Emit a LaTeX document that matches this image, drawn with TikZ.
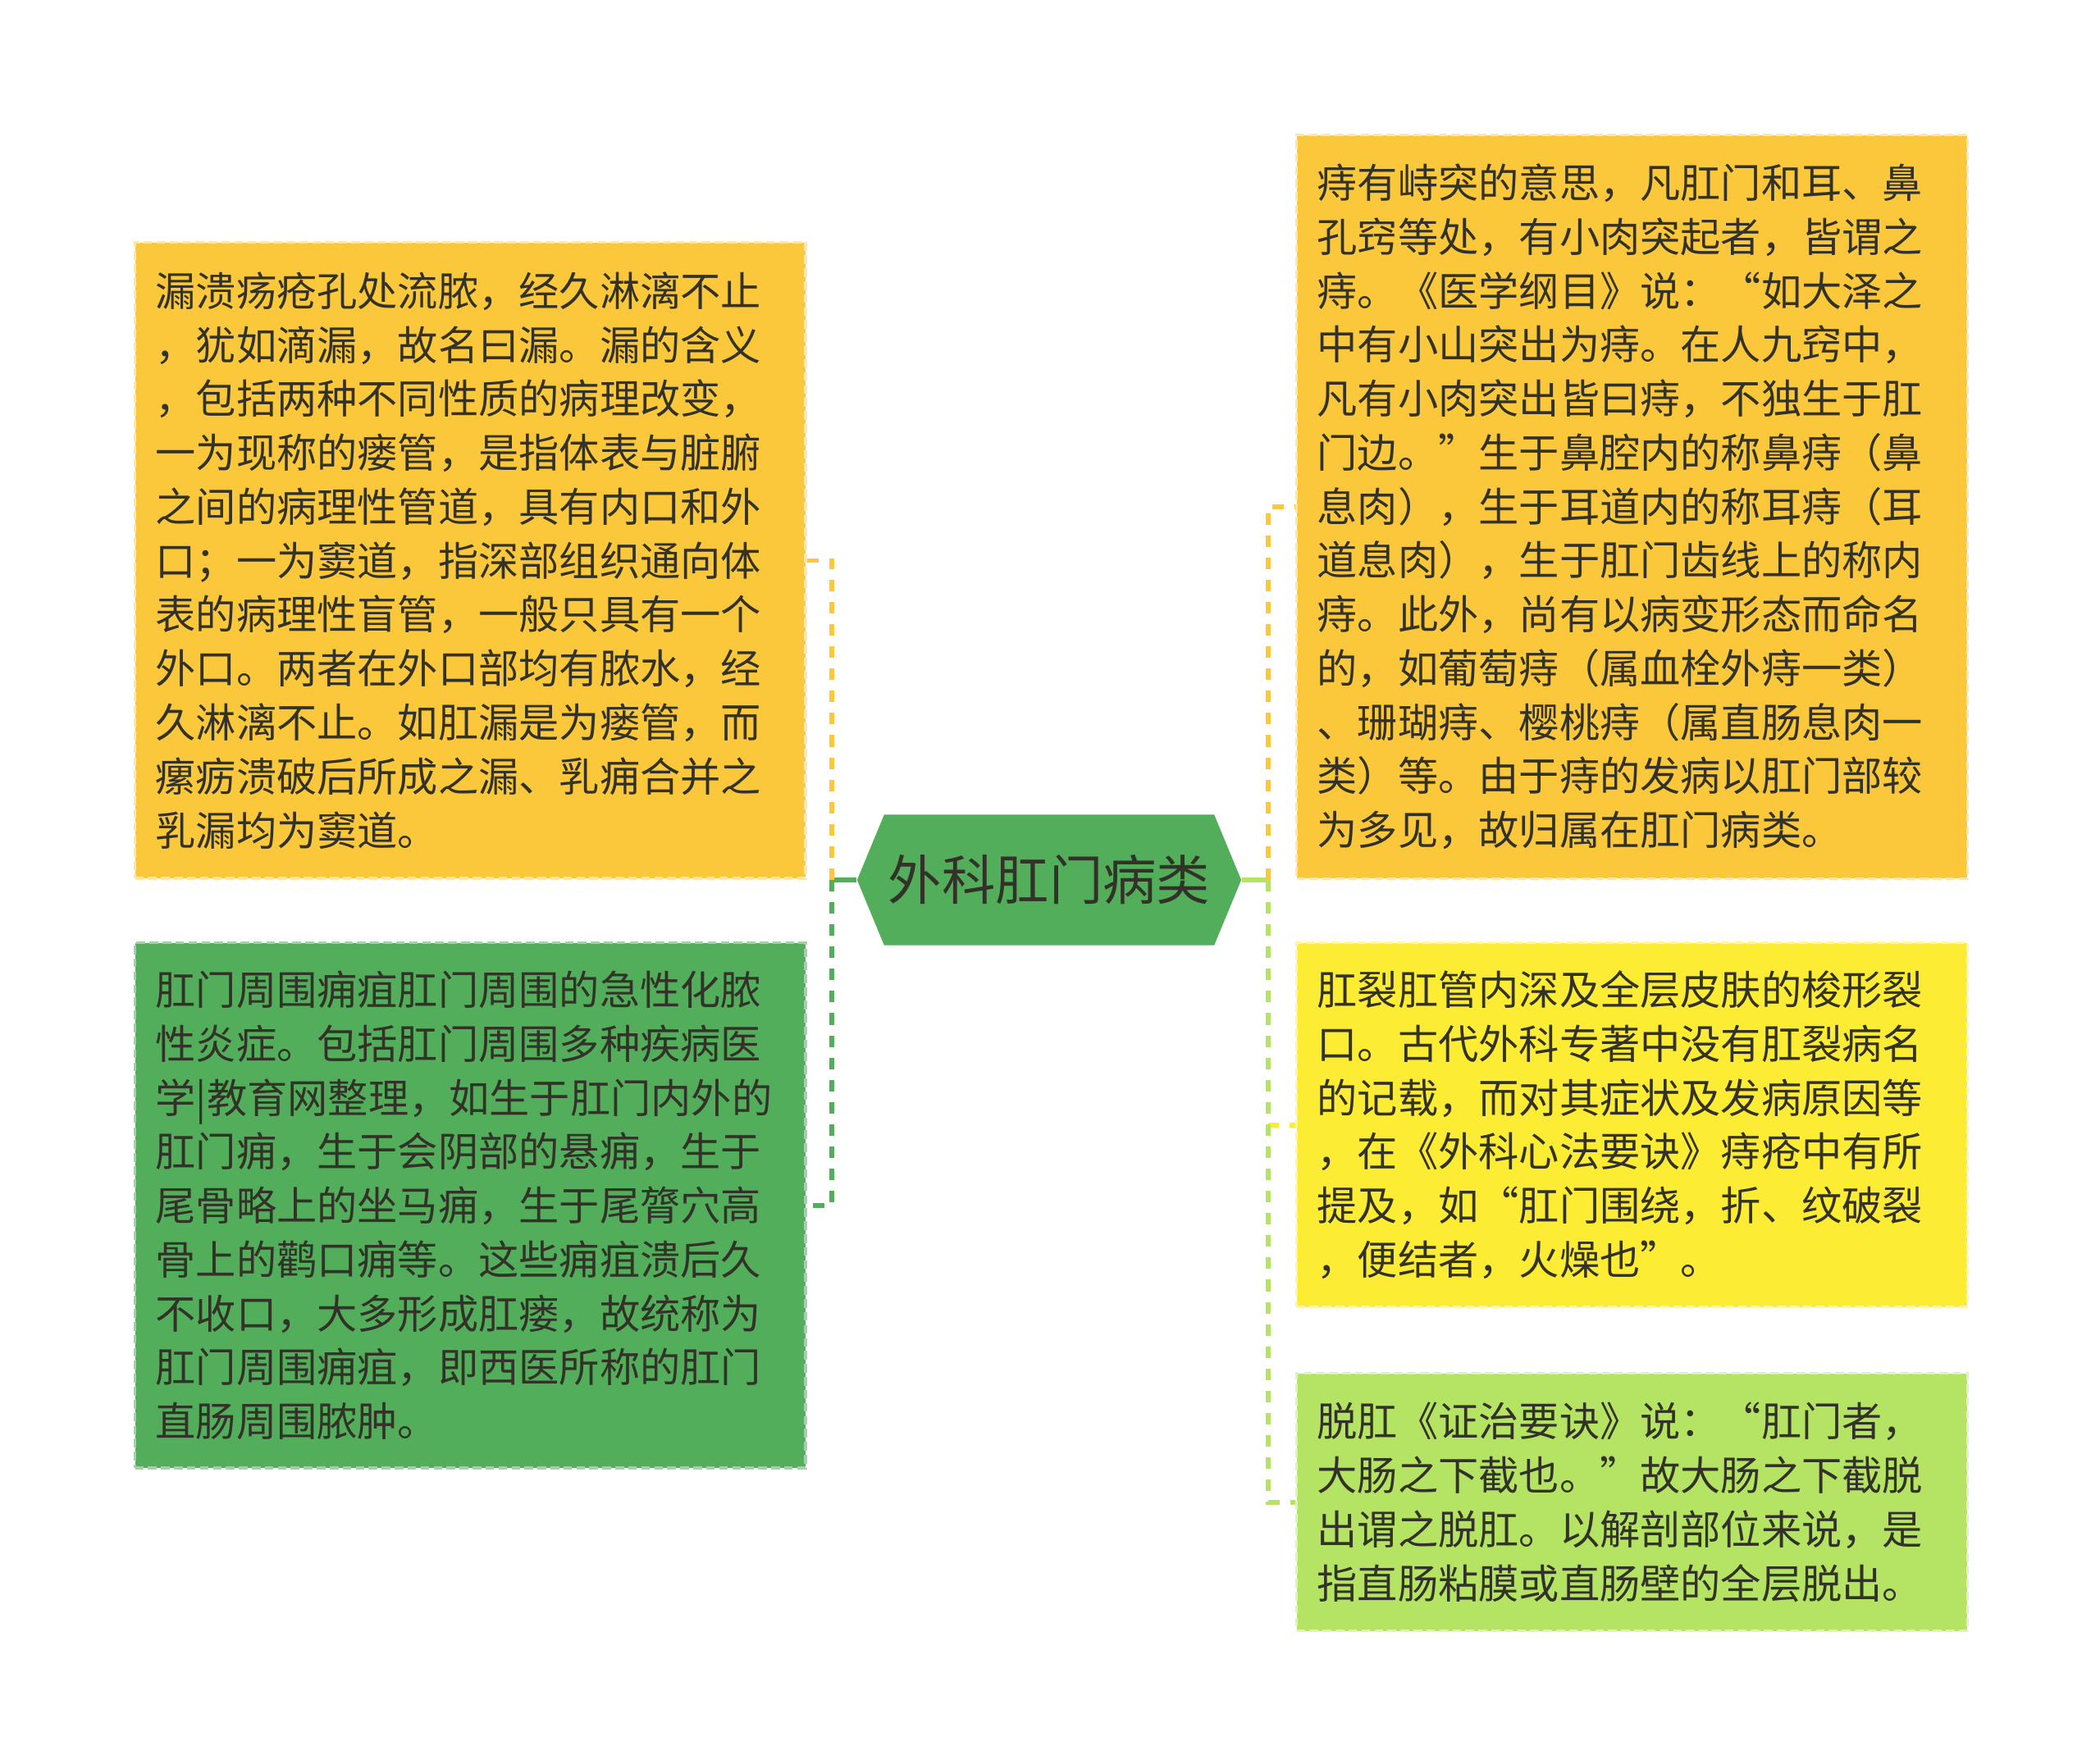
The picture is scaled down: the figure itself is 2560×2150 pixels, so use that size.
\documentclass[tikz,border=0pt]{standalone}
\usepackage{fontspec}
\setmainfont{Noto Sans CJK SC}
\usepackage{xcolor}
\usepackage{tikz}
\usetikzlibrary{calc,positioning,shapes.symbols}
\definecolor{boxorange}{RGB}{251,200,60}
\definecolor{boxgreen}{RGB}{82,174,91}
\definecolor{boxyellow}{RGB}{253,236,52}
\definecolor{boxlime}{RGB}{181,228,100}
\definecolor{inkdark}{RGB}{50,50,40}

\begin{document}
\begin{tikzpicture}[x=0.01cm,y=-0.01cm,
    hub/.style={shape=signal,signal to=west and east,signal pointer angle=135,
      minimum width=4.68cm,minimum height=1.59cm,inner sep=0pt,fill=boxgreen,
      text=inkdark,font=\fontsize{18.6pt}{20pt}\selectfont},
    leaf/.style={anchor=north west,minimum width=8.17cm,text width=7.67cm,
      inner xsep=0.25cm,inner ysep=0pt,align=left,text=inkdark,
      line width=0.9pt,dash pattern=on 3pt off 1.5pt,
      font=\fontsize{14pt}{18.7pt}\selectfont},
    stem/.style={line width=1.7pt},
    branch/.style={line width=1.6pt,dash pattern=on 4pt off 3.7pt}]
  \useasboundingbox (0,0) rectangle (2560,2150);
  % central topic
  \node[hub] (hub) at (1279,1073) {外科肛门病类};
  % left leaves
  \node[leaf,fill=boxorange,draw=boxorange!45!white,minimum height=7.75cm] (lou) at (163,294)
    {漏溃疡疮孔处流脓，经久淋漓不止\\
     ，犹如滴漏，故名曰漏。漏的含义\\
     ，包括两种不同性质的病理改变，\\
     一为现称的瘘管，是指体表与脏腑\\
     之间的病理性管道，具有内口和外\\
     口；一为窦道，指深部组织通向体\\
     表的病理性盲管，一般只具有一个\\
     外口。两者在外口部均有脓水，经\\
     久淋漓不止。如肛漏是为瘘管，而\\
     瘰疬溃破后所成之漏、乳痈合并之\\
     乳漏均为窦道。};
  \node[leaf,fill=boxgreen,draw=boxgreen!55!white,minimum height=6.40cm] (yongju) at (163,1148)
    {肛门周围痈疽肛门周围的急性化脓\\
     性炎症。包括肛门周围多种疾病医\\
     学|教育网整理，如生于肛门内外的\\
     肛门痈，生于会阴部的悬痈，生于\\
     尾骨略上的坐马痈，生于尾膂穴高\\
     骨上的鹳口痈等。这些痈疽溃后久\\
     不收口，大多形成肛瘘，故统称为\\
     肛门周围痈疽，即西医所称的肛门\\
     直肠周围脓肿。};
  % right leaves
  \node[leaf,fill=boxorange,draw=boxorange!45!white,minimum height=9.06cm] (zhi) at (1579,163)
    {痔有峙突的意思，凡肛门和耳、鼻\\
     孔窍等处，有小肉突起者，皆谓之\\
     痔。《医学纲目》说：“如大泽之\\
     中有小山突出为痔。在人九窍中，\\
     凡有小肉突出皆曰痔，不独生于肛\\
     门边。”生于鼻腔内的称鼻痔（鼻\\
     息肉），生于耳道内的称耳痔（耳\\
     道息肉），生于肛门齿线上的称内\\
     痔。此外，尚有以病变形态而命名\\
     的，如葡萄痔（属血栓外痔一类）\\
     、珊瑚痔、樱桃痔（属直肠息肉一\\
     类）等。由于痔的发病以肛门部较\\
     为多见，故归属在肛门病类。};
  \node[leaf,fill=boxyellow,draw=boxyellow!45!white,minimum height=4.44cm] (lie) at (1579,1148)
    {肛裂肛管内深及全层皮肤的梭形裂\\
     口。古代外科专著中没有肛裂病名\\
     的记载，而对其症状及发病原因等\\
     ，在《外科心法要诀》痔疮中有所\\
     提及，如“肛门围绕，折、纹破裂\\
     ，便结者，火燥也”。};
  \node[leaf,fill=boxlime,draw=boxlime!45!white,minimum height=3.14cm] (tuo) at (1579,1673)
    {脱肛《证治要诀》说：“肛门者，\\
     大肠之下截也。”故大肠之下截脱\\
     出谓之脱肛。以解剖部位来说，是\\
     指直肠粘膜或直肠壁的全层脱出。};
  % connectors
  \coordinate (jl) at (1014,1073);
  \coordinate (jr) at (1546,1073);
  \draw[stem,boxgreen] (hub.west) -- (jl);
  \draw[stem,boxlime] (hub.east) -- (jr);
  \draw[branch,boxorange] (jl) |- (lou.east);
  \draw[branch,boxgreen] (jl) |- (yongju.east);
  \draw[branch,boxorange] (jr) |- (zhi.west);
  \draw[branch,boxyellow] (jr) |- (lie.west);
  \draw[branch,boxlime] (jr) |- (tuo.west);
\end{tikzpicture}
\end{document}
